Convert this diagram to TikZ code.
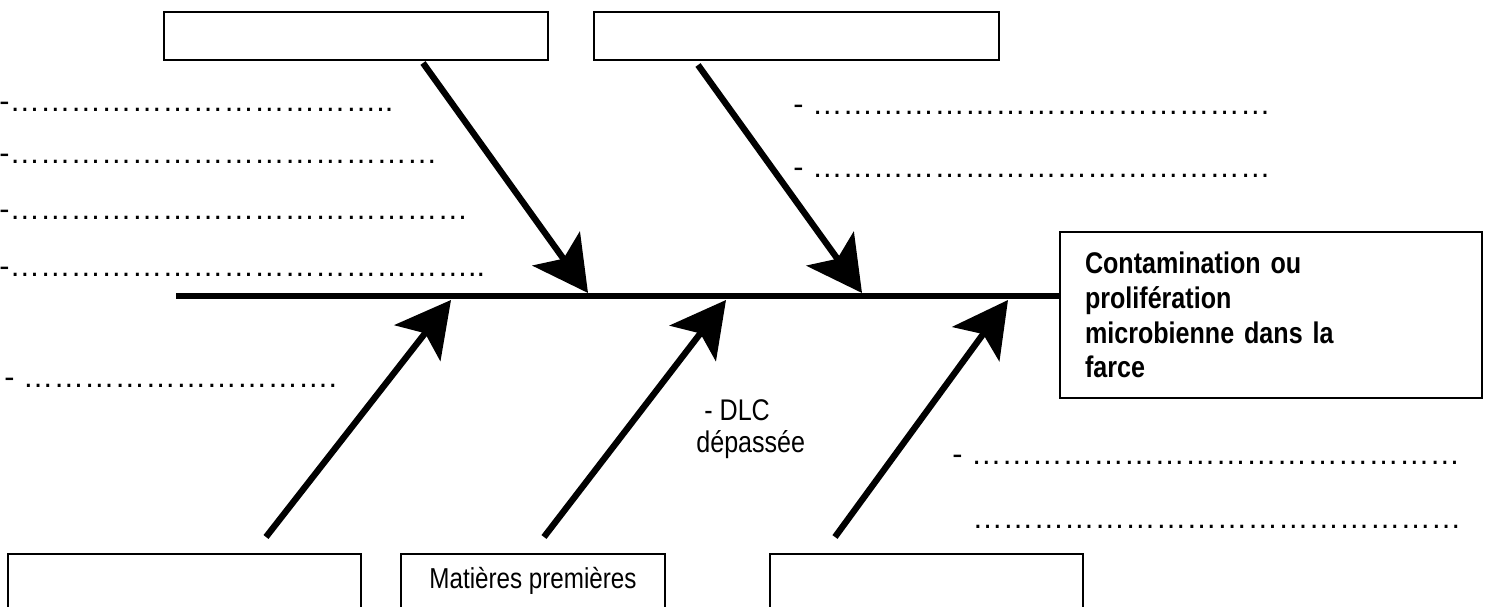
\documentclass[tikz,border=0pt]{standalone}
\usepackage{fontspec}
\setmainfont{Liberation Sans}
\newfontfamily\narrowsans{Liberation Sans}[FakeStretch=0.84]
\usetikzlibrary{arrows.meta}
\begin{document}
\begin{tikzpicture}[x=0.02cm, y=-0.02cm,
  box/.style={draw, line width=1.1pt, inner sep=0pt},
  bone/.style={line width=3.6pt, -{Stealth[length=31pt, width=33pt, inset=7pt]}},
  spine/.style={line width=3.9pt},
  dotline/.style={anchor=base west, inner sep=0pt, font=\fontsize{17.4pt}{21pt}\selectfont},
  lbl/.style={anchor=base west, inner sep=0pt, font=\narrowsans\fontsize{17pt}{19pt}\selectfont}
]
\clip (0,0) rectangle (1491,607);

% cause boxes above the spine
\node[box, minimum width=7.68cm, minimum height=0.96cm] (cause1) at (356,36) {};
\node[box, minimum width=8.1cm, minimum height=0.96cm] (cause2) at (796.5,36) {};

% effect box
\node[box, text width=7.44cm, inner xsep=0.5cm, minimum height=3.32cm, align=left,
      font=\narrowsans\bfseries\fontsize{17pt}{19.84pt}\selectfont] (effect) at (1271,315)
  {Contamination ou\\prolifération\\microbienne dans la\\farce};

% cause boxes below the spine (open at the bottom edge)
\node[box, anchor=north, minimum width=7.06cm, minimum height=1.74cm] (causeA) at (184.5,553) {};
\node[box, anchor=north, minimum width=5.28cm, minimum height=1.74cm] (causeB) at (533,553) {};
\node[box, anchor=north, minimum width=6.26cm, minimum height=1.74cm] (causeC) at (926.5,553) {};
\node[inner sep=0pt, anchor=base, font=\narrowsans\fontsize{16.4pt}{19pt}\selectfont] (mp) at (533,588) {Matières premières};

% spine
\coordinate (spineL) at (176,296);
\draw[spine] (spineL) -- (spineL -| effect.west);

% bones
\coordinate (s1) at (423,63);  \coordinate (t1) at (588,293);
\coordinate (s2) at (698,65);  \coordinate (t2) at (862,293);
\coordinate (s3) at (266,537); \coordinate (t3) at (451,300);
\coordinate (s4) at (544,537); \coordinate (t4) at (726,300);
\coordinate (s5) at (835,537); \coordinate (t5) at (1008,300);
\foreach \i in {1,...,5} \draw[bone] (s\i) -- (t\i);

% answer lines
\node[dotline] (la) at (-1,111.5) {-………………………………..};
\node[dotline] (lb) at (-1,163.5) {-……………………………………};
\node[dotline] (lc) at (-1,219.5) {-………………………………………};
\node[dotline] (ld) at (-1,276.5) {-………………………………………..};
\node[dotline] (le) at (4,387.5) {- ………………………….};
\node[dotline] (ra) at (793,114.5) {- ………………………………………};
\node[dotline] (rb) at (793,178) {- ………………………………………};
\node[dotline] (rc) at (952,464.5) {- …………………………………………};
\node[dotline] (rd) at (972,528.5) {…………………………………………};

% given cause
\node[lbl] (dlc) at (704,421) {- DLC};
\node[lbl] (dep) at (696,453) {dépassée};
\end{tikzpicture}
\end{document}
